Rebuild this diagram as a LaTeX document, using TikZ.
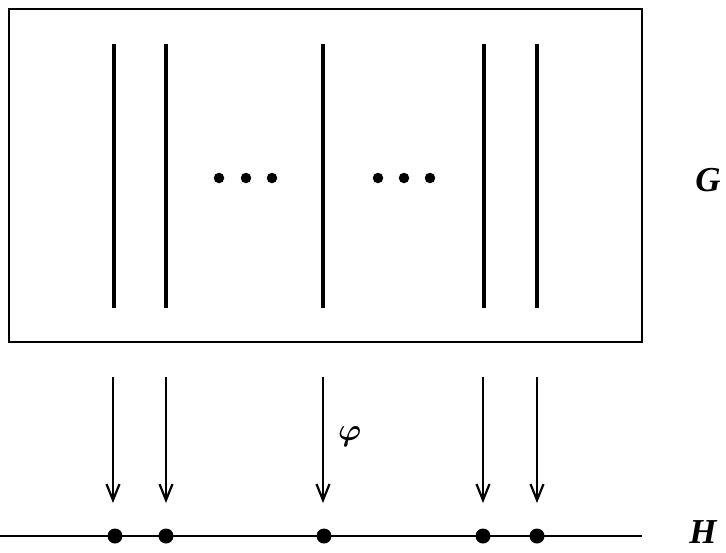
\documentclass[tikz,border=0pt]{standalone}
\usepackage{bm}
\usepackage{fontspec}
\setmainfont{Liberation Serif}
\usetikzlibrary{arrows.meta}
\begin{document}
\begin{tikzpicture}[x=1pt,y=-1pt,
  strand/.style={line width=4pt},
  map/.style={line width=2.2pt,-{Straight Barb[length=16pt,width=13pt,line width=2.2pt]}},
  main node/.style={circle,fill,inner sep=0pt,minimum size=15pt},
  small dot/.style={circle,fill,inner sep=0pt,minimum size=10.5pt},
  lbl/.style={inner sep=0pt,font=\fontsize{35}{38}\selectfont\bfseries\itshape}]
  \useasboundingbox (0,0) rectangle (726,552);

  \node[draw,line width=2.6pt,minimum width=633pt,minimum height=333pt,inner sep=0pt] (box) at (325.5,175.5) {};
  \node[lbl] (G) at (708,180) {G};

  \coordinate (t1) at (114,44);  \coordinate (b1) at (114,308);
  \coordinate (t2) at (166,44);  \coordinate (b2) at (166,308);
  \coordinate (t3) at (323,44);  \coordinate (b3) at (323,308);
  \coordinate (t4) at (484,44);  \coordinate (b4) at (484,308);
  \coordinate (t5) at (537,44);  \coordinate (b5) at (537,308);

  \draw[strand] (t1) -- (b1);
  \draw[strand] (t2) -- (b2);
  \draw[strand] (t3) -- (b3);
  \draw[strand] (t4) -- (b4);
  \draw[strand] (t5) -- (b5);

  \node[small dot] (d1) at (219,178) {};
  \node[small dot] (d2) at (246,178) {};
  \node[small dot] (d3) at (272,178) {};
  \node[small dot] (d4) at (378,178) {};
  \node[small dot] (d5) at (404,178) {};
  \node[small dot] (d6) at (430,178) {};

  % the map phi
  \coordinate (s1) at (113,377);  \coordinate (e1) at (113,503);
  \coordinate (s2) at (166,377);  \coordinate (e2) at (166,503);
  \coordinate (s3) at (323,377);  \coordinate (e3) at (323,503);
  \coordinate (s4) at (483,377);  \coordinate (e4) at (483,503);
  \coordinate (s5) at (537,377);  \coordinate (e5) at (537,503);

  \draw[map] (s1) -- (e1);
  \draw[map] (s2) -- (e2);
  \draw[map] (s3) -- (e3) node[pos=0.47,right=14pt,inner sep=0pt,font=\huge] (phi) {\scalebox{1.5}{$\bm{\varphi}$}};
  \draw[map] (s4) -- (e4);
  \draw[map] (s5) -- (e5);

  % the graph H
  \coordinate (hl) at (0,536);
  \coordinate (hr) at (642,536);
  \draw[line width=2.4pt] (hl) -- (hr);
  \node[main node] (h1) at (115,536) {};
  \node[main node] (h2) at (166,536) {};
  \node[main node] (h3) at (324,536) {};
  \node[main node] (h4) at (483,536) {};
  \node[main node] (h5) at (537,536) {};
  \node[lbl] (H) at (703,532) {H};
\end{tikzpicture}
\end{document}
